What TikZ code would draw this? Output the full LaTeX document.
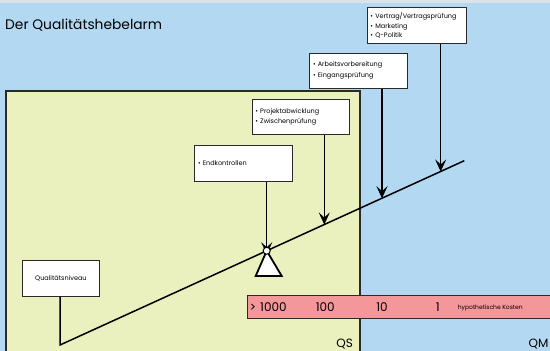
\documentclass[tikz,border=0pt]{standalone}
\usepackage{fontspec}
\setmainfont{Poppins}
\usetikzlibrary{arrows.meta,calc}
\definecolor{skyblue}{HTML}{B3D8F1}
\definecolor{panelgreen}{HTML}{EAF0BE}
\definecolor{costpink}{HTML}{F4979B}
\definecolor{topgray}{HTML}{DCE2EA}
\definecolor{edge}{HTML}{2A2A2A}
\tikzset{
  box/.style={draw=edge, line width=0.9pt, fill=white, anchor=north west, inner sep=3pt, align=left,
    font=\fontsize{6.5}{9.3}\selectfont},
  arr/.style={line width=1.2pt, -{Stealth[length=12pt, width=11pt, inset=5pt, line width=0.6pt]}},
  beam/.style={line width=1.5pt},
  costlbl/.style={font=\fontsize{12}{13}\selectfont, inner sep=0pt},
  zone/.style={font=\fontsize{12}{13}\selectfont, inner sep=0pt}
}
\begin{document}
\begin{tikzpicture}[x=1pt,y=-1pt]
\useasboundingbox (0,0) rectangle (550,351);
\fill[skyblue] (0,0) rectangle (550,351);
\fill[topgray] (0,0) rectangle (550,3);
% QS panel
\fill[panelgreen] (6,91) rectangle (360,352);
\draw[edge, line width=1.2pt] (6,352) -- (6,91) -- (360,91) -- (360,352);
% title
\node[anchor=base west, inner sep=0pt, font=\fontsize{13.8}{14}\selectfont] (title) at (5,29) {Der Qualitätshebelarm};
% beam geometry
\coordinate (bl) at (60,345);
\coordinate (br) at (464.3,160.7);
\coordinate (t1) at ($(bl)!0.9416!(br)$);
\coordinate (t2) at ($(bl)!0.7964!(br)$);
\coordinate (t3) at ($(bl)!0.6537!(br)$);
\coordinate (piv) at ($(bl)!0.5113!(br)$);
% boxes
\node[box, minimum width=99pt, minimum height=35.5pt, text width=93pt] (b1) at (367,7.3)
  {\textbullet\ Vertrag/Vertragsprüfung\\\textbullet\ Marketing\\\textbullet\ Q-Politik};
\node[box, minimum width=97.5pt, minimum height=35.5pt, text width=91pt, font=\fontsize{6.5}{11}\selectfont] (b2) at (309.3,52.7)
  {\textbullet\ Arbeitsvorbereitung\\\textbullet\ Eingangsprüfung};
\node[box, minimum width=97.5pt, minimum height=35pt, text width=91pt] (b3) at (251.7,99)
  {\textbullet\ Projektabwicklung\\\textbullet\ Zwischenprüfung};
\node[box, minimum width=97.5pt, minimum height=35.5pt, text width=91pt] (b4) at (194.3,145.3)
  {\textbullet\ Endkontrollen};
\node[box, minimum width=77.5pt, minimum height=35.5pt, align=center] (b5) at (21.7,260.3)
  {Qualitätsniveau};
% pivot triangle
\draw[line width=1.8pt, fill=white, line join=miter] (piv) -- (255.7,276) -- (281.7,276) -- cycle;
% beam
\draw[beam] (b5.south -| bl) -- (bl) -- (br);
% arrows
\draw[arr] (b1.south -| t1) -- (t1);
\draw[arr] (b2.south -| t2) -- (t2);
\draw[arr] (b3.south -| t3) -- (t3);
\draw[arr] (b4.south -| piv) -- ([yshift=-3.5pt]piv);
\node[circle, draw, line width=1pt, fill=white, minimum size=7pt, inner sep=0pt] (pv) at (piv) {};
% cost bar
\draw[edge, line width=0.9pt, fill=costpink] (247.7,295.7) rectangle (552,318.3);
\node[costlbl, anchor=west] (c0) at (249.5,307.5) {>\hspace{4pt}1000};
\node[costlbl] (c1) at (325.3,307.5) {100};
\node[costlbl] (c2) at (382,307.5) {10};
\node[costlbl] (c3) at (437.7,307.5) {1};
\node[anchor=west, inner sep=0pt, font=\fontsize{6}{7}\selectfont] (hk) at (457.7,308) {hypothetische Kosten};
% zone labels
\node[zone, anchor=base east] (qs) at (353,347.5) {QS};
\node[zone, anchor=base west] (qm) at (528.5,347.5) {QM};
\end{tikzpicture}
\end{document}
